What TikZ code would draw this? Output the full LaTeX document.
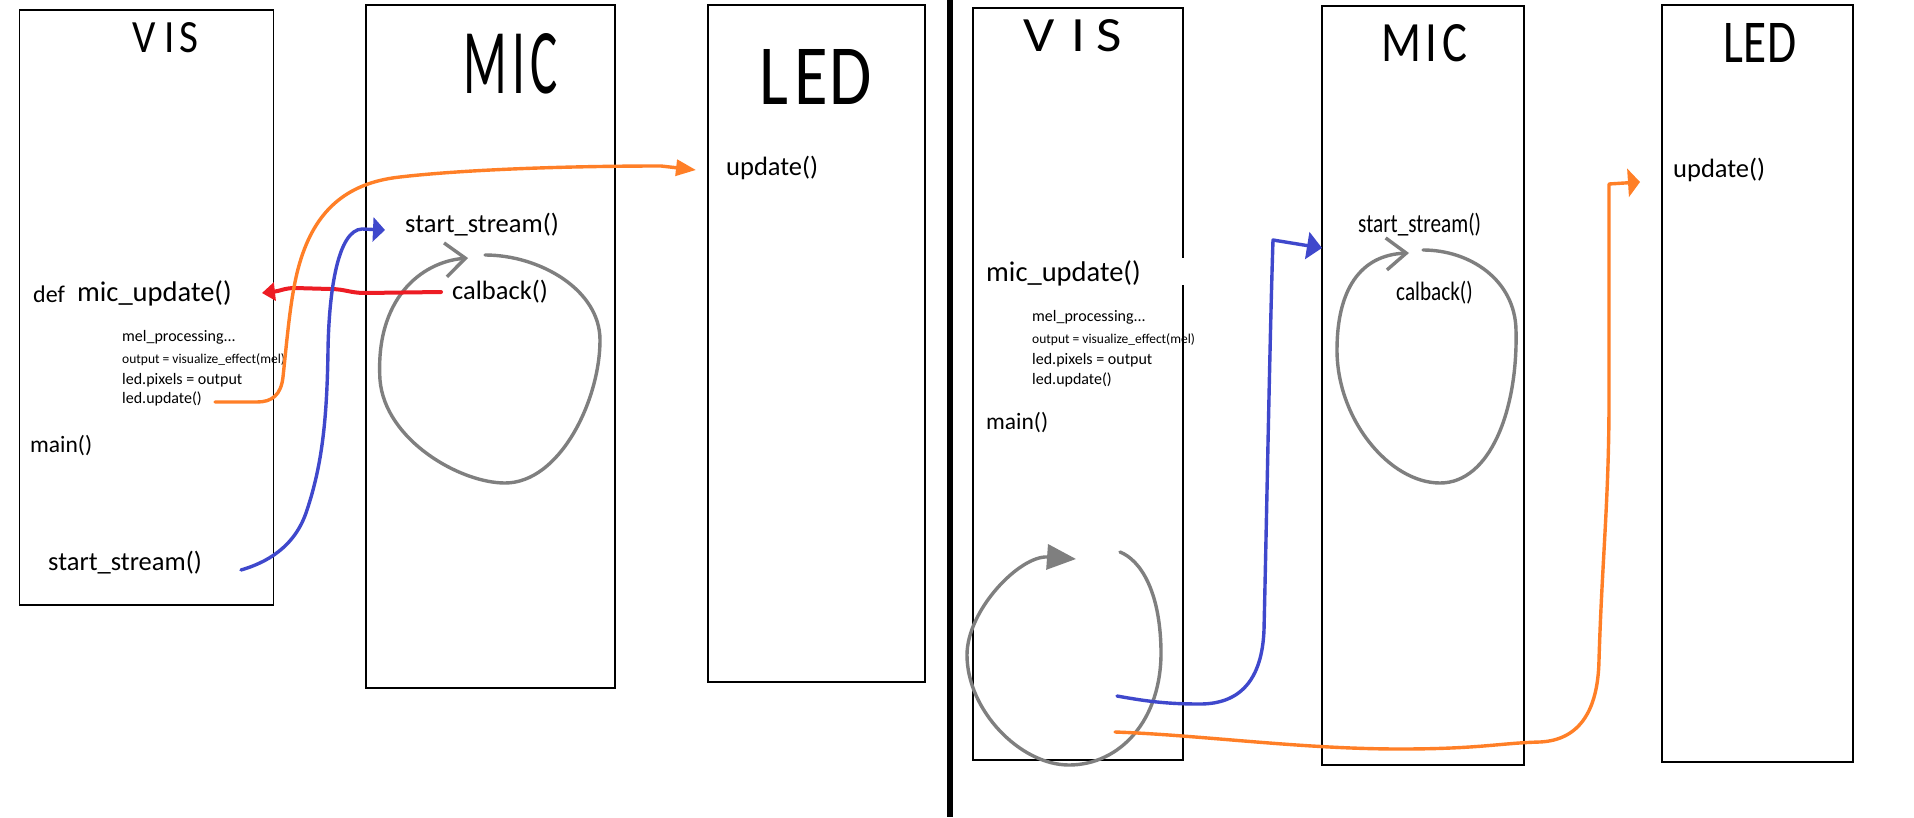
\documentclass[tikz,border=0pt]{standalone}
\usepackage{graphicx}
\usepackage{fontspec}
\setmainfont{Carlito}
\newfontfamily\handfont{Carlito}
\usetikzlibrary{arrows.meta}

\definecolor{paintorange}{RGB}{255,127,39}
\definecolor{paintblue}{RGB}{63,72,204}
\definecolor{paintred}{RGB}{237,28,36}
\definecolor{paintgray}{RGB}{127,127,127}

% hand written heading, squeezed to the size of the sketch
\newcommand{\handtitle}[3]{\resizebox{#1}{#2}{\handfont #3}}

\tikzset{
  panel/.style={draw, line width=1.2pt, inner sep=0pt},
  heading/.style={inner sep=0pt},
  calltext/.style={anchor=west, inner sep=0pt, font=\fontsize{26.5}{30}\selectfont},
  headtext/.style={anchor=west, inner sep=0pt, font=\fontsize{28.5}{32}\selectfont},
  deftext/.style={anchor=west, inner sep=0pt, font=\fontsize{24}{28}\selectfont},
  maintext/.style={anchor=west, inner sep=0pt, font=\fontsize{23.5}{28}\selectfont},
  bodytext/.style={anchor=west, inner sep=0pt, font=\fontsize{16}{19}\selectfont},
  tinytext/.style={anchor=west, inner sep=0pt, font=\fontsize{13.5}{16}\selectfont},
  redline/.style={draw=paintred, line width=4pt, line cap=round, line join=round},
  orangeline/.style={draw=paintorange, line width=3.4pt, line cap=round, line join=round},
  blueline/.style={draw=paintblue, line width=3.4pt, line cap=round, line join=round},
  grayline/.style={draw=paintgray, line width=3.4pt, line cap=round, line join=round}
}

\begin{document}
\begin{tikzpicture}[x=1pt, y=-1pt]
  \useasboundingbox (0,0) rectangle (1914,817);
  \fill[white] (0,0) rectangle (1914,817);

  % left sketch: the three modules
  \node[panel, minimum width=254pt, minimum height=595pt] (vis1) at (146.5,307.5) {};
  \node[panel, minimum width=249pt, minimum height=683pt] (mic1) at (490.5,346.5) {};
  \node[panel, minimum width=217pt, minimum height=677pt] (led1) at (816.5,343.5) {};

  \node[heading] (vist1) at (165.5,38) {\handtitle{65pt}{30pt}{V\kern.2em I\kern.1em S}};
  \node[heading] (mict1) at (511,64) {\handtitle{94pt}{60pt}{M\kern.1em I\kern.1em C}};
  \node[heading] (ledt1) at (815.5,77) {\handtitle{113pt}{55pt}{L\kern.1em E\kern.02em D}};

  \node[deftext] (def1) at (33,294) {def};
  \node[headtext] (micupd1) at (77,293) {mic\_update()};
  \node[bodytext] (mel1) at (122,337) {mel\_processing...};
  \node[tinytext] (out1) at (122,360) {output = visualize\_effect(mel)};
  \node[bodytext] (pix1) at (122,380) {led.pixels = output};
  \node[bodytext] (ledupd1) at (122,399) {led.update()};
  \node[maintext] (main1) at (30,446) {main()};
  \node[calltext] (start1) at (48,563) {start\_stream()};
  \node[calltext] (mstart1) at (405,225) {start\_stream()};
  \node[calltext] (calback1) at (452,292) {calback()};
  \node[calltext] (update1) at (726,168) {update()};
  \coordinate (loop1) at (485,255);

  % callback loop inside MIC
  \draw[grayline, -{Straight Barb[length=20pt,width=34pt]}] (loop1)
    .. controls (540,255) and (600,290) .. (600,340)
    .. controls (600,400) and (560,483) .. (505,483)
    .. controls (460,483) and (385,440) .. (380,380)
    .. controls (375,300) and (420,262) .. (468,258);
  \draw[redline, -{Triangle[length=13pt,width=18pt]}] ([xshift=-11pt]calback1.west)
    -- (365,293) .. controls (350,293) and (345,289) .. (330,289) -- (295,288)
    .. controls (285,288) and (280,291) .. ([xshift=30pt]micupd1.east);
  \draw[orangeline, -{Triangle[length=20pt,width=16pt]}] ([xshift=13pt,yshift=-3pt]ledupd1.east)
    -- (257,402) .. controls (272,402) and (281,395) .. (283,377)
    .. controls (288,330) and (291,292) .. (300,262)
    .. controls (315,212) and (345,183) .. (400,177)
    .. controls (460,170) and (560,166) .. (661,166)
    -- ([xshift=-30pt,yshift=-2pt]update1.west);
  \draw[blueline, -{Triangle[length=12pt,width=24pt]}] ([xshift=39pt,yshift=-7pt]start1.east)
    .. controls (265,563) and (295,548) .. (307,510)
    .. controls (322,465) and (327,420) .. (328,350)
    .. controls (329,290) and (338,230) .. (362,229)
    -- ([xshift=-20pt,yshift=-5pt]mstart1.west);

  % divider
  \draw[line width=6pt] (950,0) -- (950,817);

  % right sketch
  \node[panel, minimum width=210pt, minimum height=752pt] (vis2) at (1078,384) {};
  \node[panel, minimum width=202pt, minimum height=759pt] (mic2) at (1423,385.5) {};
  \node[panel, minimum width=191pt, minimum height=757pt] (led2) at (1757.5,383.5) {};
  \fill[white] (1179,258) rectangle (1188,285);

  \node[heading] (vist2) at (1073,36) {\handtitle{98pt}{32pt}{V\kern.3em I\kern.2em S}};
  \node[heading] (mict2) at (1424,43.5) {\handtitle{86pt}{37pt}{M\kern.1em I\kern.1em C}};
  \node[heading] (ledt2) at (1760,42.5) {\handtitle{74pt}{39pt}{L\kern.02em E\kern.02em D}};

  \node[headtext] (micupd2) at (986,273) {mic\_update()};
  \node[bodytext] (mel2) at (1032,317) {mel\_processing...};
  \node[tinytext] (out2) at (1032,340) {output = visualize\_effect(mel)};
  \node[bodytext] (pix2) at (1032,360) {led.pixels = output};
  \node[bodytext] (ledupd2) at (1032,380) {led.update()};
  \node[maintext] (main2) at (986,423) {main()};
  \node[calltext] (mstart2) at (1358,225) {\scalebox{0.8}[1]{start\_stream()}};
  \node[calltext] (calback2) at (1396,293) {\scalebox{0.8}[1]{calback()}};
  \node[calltext] (update2) at (1673,170) {update()};
  \coordinate (loop2) at (1120,552);
  \coordinate (loop3) at (1423,250);
  \coordinate (bstart2) at (1117,696);
  \coordinate (ostart2) at (1115,732);

  % callback loop inside MIC
  \draw[grayline, -{Straight Barb[length=20pt,width=32pt]}] (loop3)
    .. controls (1470,250) and (1515,280) .. (1516,330)
    .. controls (1518,410) and (1490,483) .. (1440,483)
    .. controls (1390,483) and (1337,420) .. (1337,350)
    .. controls (1337,290) and (1360,255) .. (1409,253);
  % main loop inside VIS
  \draw[grayline, -{Triangle[length=29pt,width=25pt]}] (loop2)
    .. controls (1140,560) and (1160,590) .. (1161,650)
    .. controls (1162,720) and (1120,765) .. (1069,765)
    .. controls (1020,765) and (967,710) .. (967,655)
    .. controls (967,610) and (1020,555) .. (1076,559);
  \draw[blueline, -{Triangle[length=15pt,width=27pt]}] (bstart2)
    .. controls (1150,702) and (1170,704) .. (1200,704)
    .. controls (1240,704) and (1262,680) .. (1264,630)
    .. controls (1267,500) and (1270,330) .. (1273,240)
    -- ([xshift=-36pt,yshift=-23pt]mstart2.west);
  \draw[orangeline, -{Triangle[length=12pt,width=28pt]}] (ostart2)
    .. controls (1200,735) and (1300,749) .. (1400,749)
    .. controls (1480,749) and (1500,743) .. (1540,742)
    .. controls (1580,740) and (1598,710) .. (1599,660)
    .. controls (1602,560) and (1609,500) .. (1609,400)
    -- (1609,184) -- ([xshift=-33pt,yshift=-12pt]update2.west);
\end{tikzpicture}
\end{document}
